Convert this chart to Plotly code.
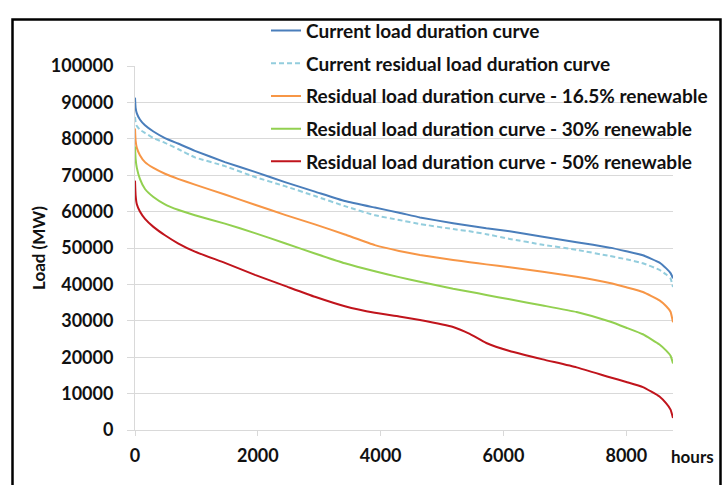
import plotly.graph_objects as go

hours = [0, 10, 30, 80, 163, 300, 488, 700, 976, 1464, 1953, 2441, 2929, 3417, 3905,
         4300, 4640, 5180, 5450, 5720, 6100, 6640, 7190, 7730, 8000, 8270, 8540, 8650,
         8720, 8760]

current_load = [91300, 88500, 87000, 85300, 83700, 82000, 80200, 78700, 76700, 73600,
                70900, 68100, 65500, 62900, 61100, 59700, 58400, 56800, 56100, 55400,
                54600, 53100, 51600, 50100, 49100, 48000, 46000, 44400, 43100, 41700]
current_residual = [86000, 84500, 83500, 82500, 81600, 80200, 78900, 77200, 74900, 72500,
                    69500, 67000, 64300, 61500, 59000, 57700, 56600, 55200, 54600, 53800,
                    52500, 50900, 49500, 47800, 46900, 45800, 44000, 42700, 41600, 39300]
residual_16_5 = [82800, 79500, 77500, 75500, 73600, 72000, 70400, 69000, 67400, 64700,
                 61900, 59100, 56500, 53700, 50800, 49200, 48100, 46700, 46100, 45500,
                 44700, 43500, 42100, 40400, 39200, 37900, 35600, 34000, 32500, 29600]
residual_30 = [77900, 74500, 72000, 69000, 66200, 64000, 62000, 60500, 59000, 56700,
               54100, 51300, 48500, 45800, 43600, 42000, 40700, 38800, 38000, 37100,
               35900, 34200, 32400, 29800, 28100, 26300, 23500, 21800, 20400, 18300]
residual_50 = [68500, 64500, 62000, 60000, 58000, 55800, 53500, 51300, 49000, 45900,
               42600, 39600, 36600, 34000, 32200, 31200, 30200, 28300, 26400, 23900,
               21700, 19400, 17200, 14500, 13200, 11800, 9200, 7300, 5600, 3300]

series_names = [
    "Current load duration curve",
    "Current residual load duration curve",
    "Residual load duration curve - 16.5% renewable",
    "Residual load duration curve - 30% renewable",
    "Residual load duration curve - 50% renewable",
]
series_values = [current_load, current_residual, residual_16_5, residual_30, residual_50]
colors = ["#4A7EBB", "#93CDDD", "#F79646", "#92D050", "#C0141C"]
dashes = ["solid", "5px,3px", "solid", "solid", "solid"]

x_ticks = [0, 2000, 4000, 6000, 8000]
y_ticks = list(range(0, 100001, 10000))

FONT = "Lato"
TXT = "#111111"

fig = go.Figure()
for i, (name, vals) in enumerate(zip(series_names, series_values)):
    fig.add_trace(go.Scatter(
        x=hours, y=vals, mode="lines", name=name, legendgroup=f"g{i}",
        line=dict(color=colors[i], width=2, dash=dashes[i], shape="spline", smoothing=0.4),
    ))

W, H = 727, 485
L, R, T, B = 135, 54, 58, 55
pw, ph = W - L - R, H - T - B

def px_x(p):
    return (p - L) / pw

def px_y(p):
    return (H - B - p) / ph

fig.update_layout(
    width=W, height=H,
    margin=dict(l=L, r=R, t=T, b=B),
    paper_bgcolor="white", plot_bgcolor="white",
    font=dict(family=FONT, size=17, color=TXT, weight="bold"),
    showlegend=True,
    legend=dict(
        x=px_x(266), y=px_y(2.5), xanchor="left", yanchor="top",
        bgcolor="rgba(0,0,0,0)", font=dict(family=FONT, size=19, color=TXT, weight="bold"),
        tracegroupgap=5, itemwidth=30,
    ),
    xaxis=dict(
        range=[0, 8760], tickvals=x_ticks, ticktext=[str(v) for v in x_ticks],
        showgrid=False, zeroline=False, showline=True, linecolor="#D9D9D9", linewidth=1,
        ticks="outside", ticklen=5, tickcolor="#D9D9D9",
        tickfont=dict(family=FONT, size=18, color=TXT, weight="bold"),
        ticklabelstandoff=4,
    ),
    yaxis=dict(
        range=[0, 100000], tickvals=y_ticks, tickformat="d",
        showgrid=True, gridcolor="#D9D9D9", gridwidth=1,
        zeroline=False, showline=True, linecolor="#D9D9D9", linewidth=1,
        ticks="outside", ticklen=7, tickcolor="#D9D9D9",
        tickfont=dict(family=FONT, size=18, color=TXT, weight="bold"),
        ticklabelstandoff=10,
    ),
    annotations=[
        dict(text="Load (MW)", xref="paper", yref="paper", x=px_x(38), y=0.5,
             textangle=-90, showarrow=False, xanchor="center", yanchor="middle",
             font=dict(family=FONT, size=17, color=TXT, weight="bold")),
        dict(text="hours", xref="paper", yref="paper", x=px_x(669), y=px_y(457),
             showarrow=False, xanchor="left", yanchor="middle",
             font=dict(family=FONT, size=17, color=TXT, weight="bold")),
    ],
    shapes=[
        dict(type="rect", xref="paper", yref="paper",
             x0=px_x(12.5), x1=px_x(720.5), y0=px_y(500), y1=px_y(10.5),
             line=dict(color="black", width=2.5), fillcolor="rgba(0,0,0,0)", layer="above"),
    ],
)

fig.write_html("out.html", config={"displayModeBar": False},
               post_script="document.body.style.margin='0';")
